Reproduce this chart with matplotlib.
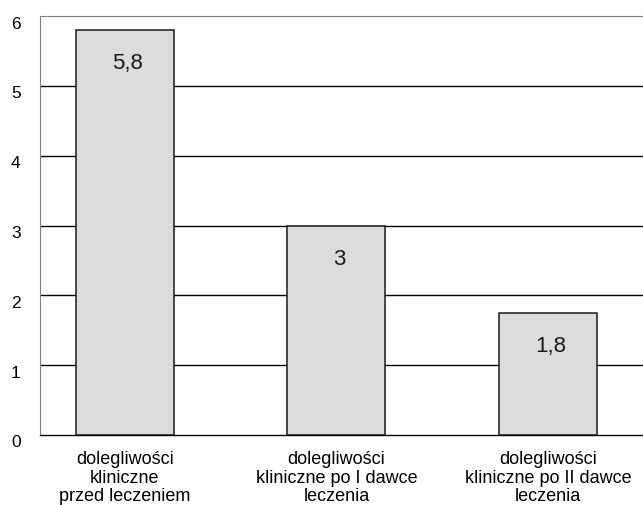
import matplotlib
matplotlib.use("Agg")
import matplotlib.pyplot as plt
from matplotlib.transforms import ScaledTranslation

categories = ["dolegliwości\nkliniczne\nprzed leczeniem",
              "dolegliwości\nkliniczne po I dawce\nleczenia",
              "dolegliwości\nkliniczne po II dawce\nleczenia"]
values = [5.8, 3.0, 1.75]
value_labels = ["5,8", "3", "1,8"]
yticks = [0, 1, 2, 3, 4, 5, 6]

plt.rcParams['font.family'] = ['Liberation Sans', 'DejaVu Sans']

fig = plt.figure(figsize=(6.43, 5.06), dpi=100)
ax = fig.add_axes([40/643, 70/506, 1 - 40/643, (436-17)/506])

x = list(range(len(categories)))
ax.bar(x, values, width=0.464, color="#dcdcdc", edgecolor="#1a1a1a",
       linewidth=1.1, zorder=3)

for xi, v, lab in zip(x, values, value_labels):
    ax.annotate(lab, (xi, v), xytext=(2, -27.5), textcoords="offset points",
                ha="center", va="baseline", fontsize=16, color="#1a1a1a",
                zorder=4)

ax.set_xlim(-0.402, 2.45)
ax.set_ylim(0, 6)
ax.set_yticks(yticks)
ax.set_yticklabels([str(t) for t in yticks], fontsize=12.5)
for t in yticks[1:-1]:
    ax.axhline(t, color="black", linewidth=1.0, zorder=1)

ax.set_xticks(x)
ax.set_xticklabels(categories, fontsize=13, linespacing=1.1)
ax.tick_params(axis="both", length=0)
ax.tick_params(axis="y", pad=14)
ax.tick_params(axis="x", pad=11)

off = ScaledTranslation(0, -0.055, fig.dpi_scale_trans)
for lbl in ax.get_yticklabels():
    lbl.set_transform(lbl.get_transform() + off)

ax.spines["left"].set_color("#808080")
ax.spines["left"].set_linewidth(0.8)
ax.spines["top"].set_color("#808080")
ax.spines["top"].set_linewidth(0.8)
ax.spines["right"].set_visible(False)
ax.spines["bottom"].set_color("black")
ax.spines["bottom"].set_linewidth(1.0)

fig.savefig("out.png", dpi=100)
